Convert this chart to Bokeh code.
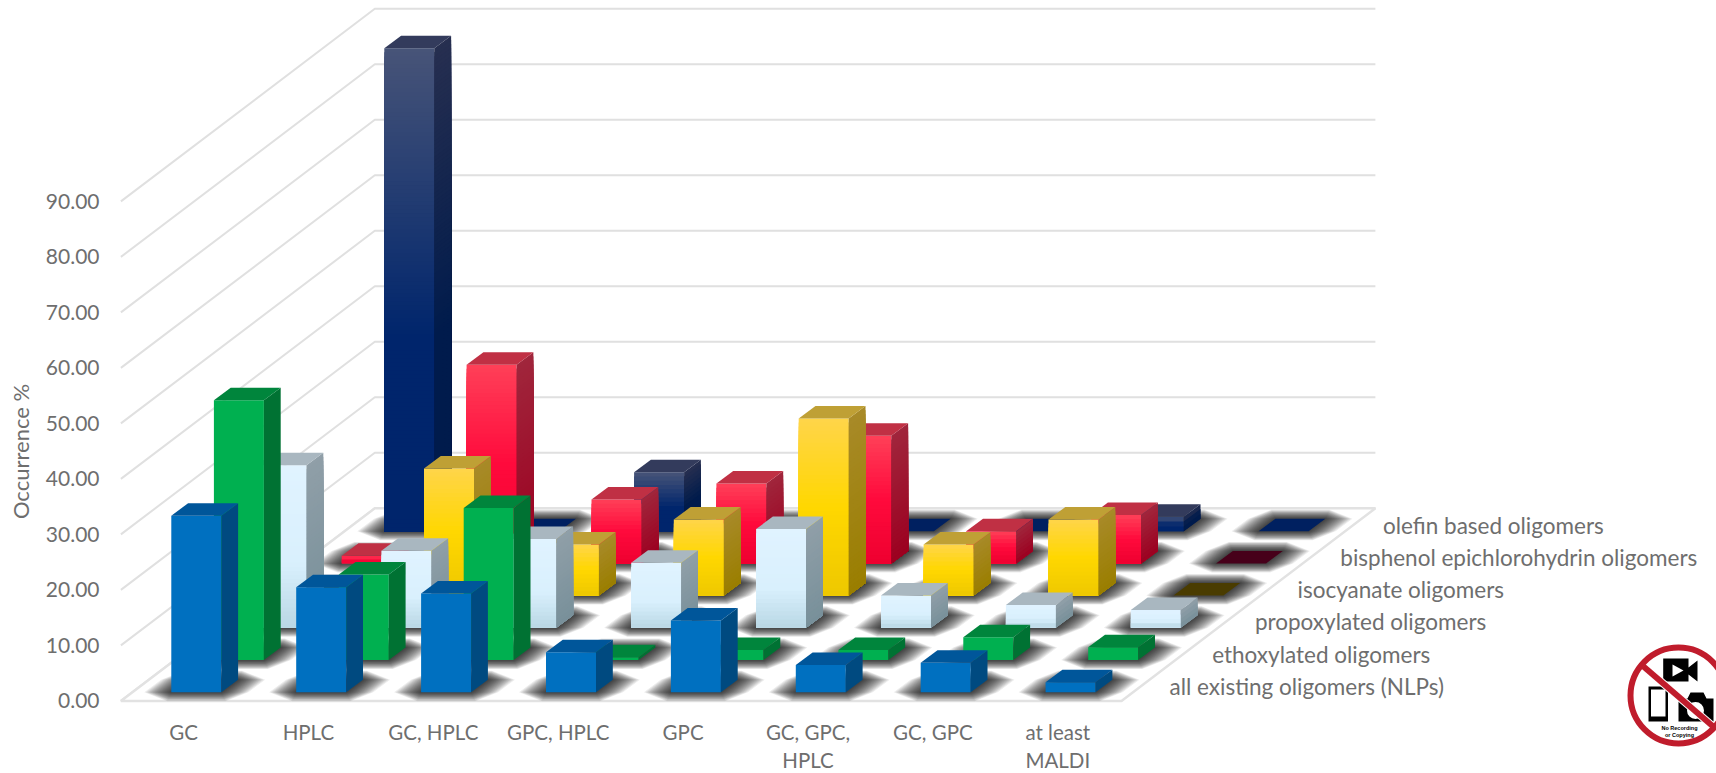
import math
from bokeh.plotting import figure
from bokeh.models import (ColumnDataSource, Range1d, LinearAxis, FixedTicker,
                          NumeralTickFormatter, Label)
from bokeh.core.properties import value
from bokeh.embed import file_html
from bokeh.resources import INLINE

# ---------- data ----------
categories = ["GC", "HPLC", "GC, HPLC", "GPC, HPLC", "GPC", "GC, GPC,\nHPLC", "GC, GPC", "at least\nMALDI"]
series_names = ["all existing oligomers (NLPs)", "ethoxylated oligomers", "propoxylated oligomers",
                "isocyanate oligomers", "bisphenol epichlorohydrin oligomers", "olefin based oligomers"]
all_existing = [31.8, 18.9, 17.8, 7.2, 12.9, 4.9, 5.3, 1.8]
ethoxylated = [46.8, 15.4, 27.4, 0.5, 1.8, 1.8, 4.1, 2.3]
propoxylated = [29.3, 13.9, 16.0, 11.7, 17.8, 5.8, 4.1, 3.2]
isocyanate = [0.0, 22.9, 9.2, 13.7, 31.9, 9.2, 13.7, 0.0]
bisphenol = [1.4, 35.8, 11.5, 14.4, 23.0, 5.8, 8.7, 0.0]
olefin = [87.0, 0.0, 10.6, 0.0, 0.0, 0.0, 2.6, 0.0]
y_ticks = [0, 10, 20, 30, 40, 50, 60, 70, 80, 90]
series_values = [all_existing, ethoxylated, propoxylated, isocyanate, bisphenol, olefin]

# ---------- projection (1 category = 124.9 px, 1 % = 5.55 px) ----------
PX_CAT, PX_VAL = 124.9, 5.55
ORIG_X, ORIG_Y = 183.0, 700.4   # picture position of category 0 / value 0


def fx(px):
    return (px - ORIG_X) / PX_CAT


def fy(py):
    return (ORIG_Y - py) / PX_VAL


W, H = 1716, 773

FLOOR_DX, FLOOR_DY = 253.9 / PX_CAT, 192.6 / PX_VAL
FLOOR_X0 = fx(120.4)
FLOOR_X1 = fx(1121.0)
SER_DX, SER_DY = 42.6 / PX_CAT, 32.2 / PX_VAL
BAR_X0, BAR_Y0 = fx(170.8), fy(691.7)
BAR_W, BAR_DX, BAR_DY = 50.0 / PX_CAT, 16.8 / PX_CAT, 12.5 / PX_VAL

styles = [
    dict(front=[(0, "#0070c0"), (1, "#0070c0")], side=[(0, "#004a80"), (1, "#004a80")], top="#00569a", zero="#00569a"),
    dict(front=[(0, "#00b050"), (1, "#00b050")], side=[(0, "#007233"), (1, "#007233")], top="#00853c", zero="#00853c"),
    dict(front=[(0, "#e0f3ff"), (.6, "#d9f0fd"), (1, "#b9d7e4")], side=[(0, "#909fa8"), (1, "#78909a")], top="#a9b7c0", zero="#a9b7c0"),
    dict(front=[(0, "#ffd54a"), (.5, "#ffd700"), (1, "#eec800")], side=[(0, "#a88a28"), (1, "#9a7e00")], top="#bfa035", zero="#4a3c00"),
    dict(front=[(0, "#ff4058"), (.5, "#ff0a3c"), (1, "#ee0030")], side=[(0, "#a0263c"), (1, "#9c0020")], top="#c03044", zero="#47001a"),
    dict(front=[(0, "#475478"), (.6, "#00256c"), (1, "#00256c")], side=[(0, "#272f50"), (.6, "#001b4c"), (1, "#001b4c")], top="#333b5c", zero="#002060"),
]


def rgb(h):
    return tuple(int(h[k:k + 2], 16) for k in (1, 3, 5))


def grad(stops, t):
    for (t0, c0), (t1, c1) in zip(stops, stops[1:]):
        if t <= t1:
            f = (t - t0) / (t1 - t0) if t1 > t0 else 0
            a, b = rgb(c0), rgb(c1)
            return "#%02x%02x%02x" % tuple(round(a[k] + (b[k] - a[k]) * f) for k in range(3))
    return stops[-1][1]


p = figure(width=W, height=H,
           min_border_left=0, min_border_right=0, min_border_top=0, min_border_bottom=0,
           x_range=Range1d(fx(0), fx(W)), y_range=Range1d(fy(H), fy(0)),
           x_axis_type=None, y_axis_type=None,
           output_backend="svg", toolbar_location=None,
           background_fill_color="white", border_fill_color="white")
p.outline_line_color = None
p.grid.visible = False

# ---------- axes ----------
FONT = "Lato"
TXT = "#6e6e6e"
ya = LinearAxis(ticker=FixedTicker(ticks=y_ticks), formatter=NumeralTickFormatter(format="0.00"),
                fixed_location=fx(108))
ya.axis_line_color = None
ya.major_tick_line_color = None
ya.minor_tick_line_color = None
ya.major_label_text_font = FONT
ya.major_label_text_font_size = "21px"
ya.major_label_text_color = TXT
ya.major_label_standoff = 3
p.add_layout(ya, "left")

xa = LinearAxis(ticker=FixedTicker(ticks=list(range(len(categories)))),
                major_label_overrides={i: c for i, c in enumerate(categories)},
                fixed_location=fy(708))
xa.axis_line_color = None
xa.major_tick_line_color = None
xa.minor_tick_line_color = None
xa.major_label_text_font = FONT
xa.major_label_text_font_size = "20.5px"
xa.major_label_text_color = TXT
xa.major_label_text_line_height = 1.2
xa.major_label_standoff = 5
p.add_layout(xa, "below")

# ---------- walls and floor ----------
GRID = "#e0e0e0"
p.multi_line([[FLOOR_X0, FLOOR_X0 + FLOOR_DX, FLOOR_X1 + FLOOR_DX] for v in y_ticks],
             [[v, v + FLOOR_DY, v + FLOOR_DY] for v in y_ticks],
             line_color=GRID, line_width=2)
p.patch([FLOOR_X0, FLOOR_X1, FLOOR_X1 + FLOOR_DX, FLOOR_X0 + FLOOR_DX],
        [0, 0, FLOOR_DY, FLOOR_DY], fill_color="white", line_color="#e2e2e2", line_width=2.5)

# ---------- soft shadows on the floor (stacked translucent octagons) ----------
sx, sy = [], []
LAYERS = 16
for j in range(len(series_values)):
    for i in range(len(categories)):
        x0 = i + BAR_X0 + j * SER_DX
        x1 = x0 + BAR_W
        y0 = BAR_Y0 + j * SER_DY
        for k in range(LAYERS):
            t = 1 - k / LAYERS
            ex, ey = 27 * t / PX_CAT, 9 * t / PX_VAL
            cx = 0.85 * ex
            sx.append([x0 - ex + cx, x1 + ex - cx, x1 + ex, x1 + BAR_DX + ex,
                       x1 + BAR_DX + ex - cx, x0 + BAR_DX - ex + cx, x0 + BAR_DX - ex, x0 - ex])
            sy.append([y0 - ey, y0 - ey, y0, y0 + BAR_DY,
                       y0 + BAR_DY + ey, y0 + BAR_DY + ey, y0 + BAR_DY, y0])
p.patches(sx, sy, fill_color="black", fill_alpha=0.075, line_color=None)

# ---------- bars, back to front; gradient faces are painted as overlapping bands ----------
bx, by, bc = [], [], []


def add(xs, ys, c):
    bx.append(xs)
    by.append(ys)
    bc.append(c)


for j in range(len(series_values) - 1, -1, -1):
    st = styles[j]
    flat = st["front"][0][1] == st["front"][-1][1]
    for i, v in enumerate(series_values[j]):
        x0 = i + BAR_X0 + j * SER_DX
        y0 = BAR_Y0 + j * SER_DY
        x1 = x0 + BAR_W
        if v > 0:
            n = 1 if flat else max(2, int(v * PX_VAL / 4))
            for s in range(n):
                ya0 = y0 + v * (n - s) / n
                t = (s + .5) / n
                add([x0, x1, x1, x0], [y0, y0, ya0, ya0], grad(st["front"], t))
                add([x1, x1 + BAR_DX, x1 + BAR_DX, x1],
                    [y0, y0 + BAR_DY, ya0 + BAR_DY, ya0], grad(st["side"], t))
        add([x0, x1, x1 + BAR_DX, x0 + BAR_DX],
            [y0 + v, y0 + v, y0 + v + BAR_DY, y0 + v + BAR_DY],
            st["top"] if v > 0 else st["zero"])

src = ColumnDataSource(dict(xs=bx, ys=by, c=bc))
p.patches("xs", "ys", source=src, fill_color="c", line_color=None)

# ---------- depth labels ----------
p.text([fx(1169 + 42.7 * j) for j in range(6)], [fy(686 - 32.3 * j) for j in range(6)],
       text=series_names, text_font=value(FONT), text_font_size="22.5px", text_color=TXT,
       text_align="left", text_baseline="middle")

# ---------- axis title ----------
p.add_layout(Label(x=fx(20), y=fy(451), text="Occurrence %",
                   angle=math.pi / 2, text_font=FONT, text_font_size="22px", text_color=TXT,
                   text_align="center", text_baseline="middle"))

# ---------- no-recording badge ----------
RED = "#c01c2c"
CX, CY = 1678, 695
p.patch([fx(1662.7), fx(1688), fx(1688), fx(1697), fx(1697), fx(1688), fx(1688), fx(1662.7)],
        [fy(658), fy(658), fy(667), fy(660), fy(681), fy(674), fy(681), fy(681)],
        fill_color="black", line_color=None)
p.patch([fx(1672), fx(1683), fx(1672)], [fy(664), fy(670), fy(676)], fill_color="white", line_color=None)
p.patch([fx(1648), fx(1667.5), fx(1667.5), fx(1648)], [fy(686), fy(686), fy(721), fy(721)],
        fill_color="black", line_color=None)
p.patch([fx(1650.5), fx(1665), fx(1665), fx(1650.5)], [fy(689), fy(689), fy(716), fy(716)],
        fill_color="white", line_color=None)
p.patch([fx(1678), fx(1687), fx(1690), fx(1703), fx(1706), fx(1713), fx(1713), fx(1678)],
        [fy(698), fy(698), fy(692), fy(692), fy(698), fy(698), fy(721), fy(721)],
        fill_color="black", line_color=None)
p.scatter([fx(1695)], [fy(710)], size=17, marker="circle", fill_color="white", line_color=None)
p.line([fx(1643), fx(1715)], [fy(666), fy(728)], line_color="white", line_width=8)
p.line([fx(1643), fx(1715)], [fy(666), fy(728)], line_color=RED, line_width=6)
p.scatter([fx(CX)], [fy(CY)], size=96, marker="circle", fill_color=None, line_color=RED, line_width=6)
p.text([fx(1679), fx(1679)], [fy(727), fy(734)], text=["No Recording", "or Copying"],
       text_font=value("Liberation Sans"), text_font_size="5.5px", text_font_style="bold",
       text_color="black", text_align="center", text_baseline="middle")

open("out.html", "w").write(file_html(p, INLINE))
